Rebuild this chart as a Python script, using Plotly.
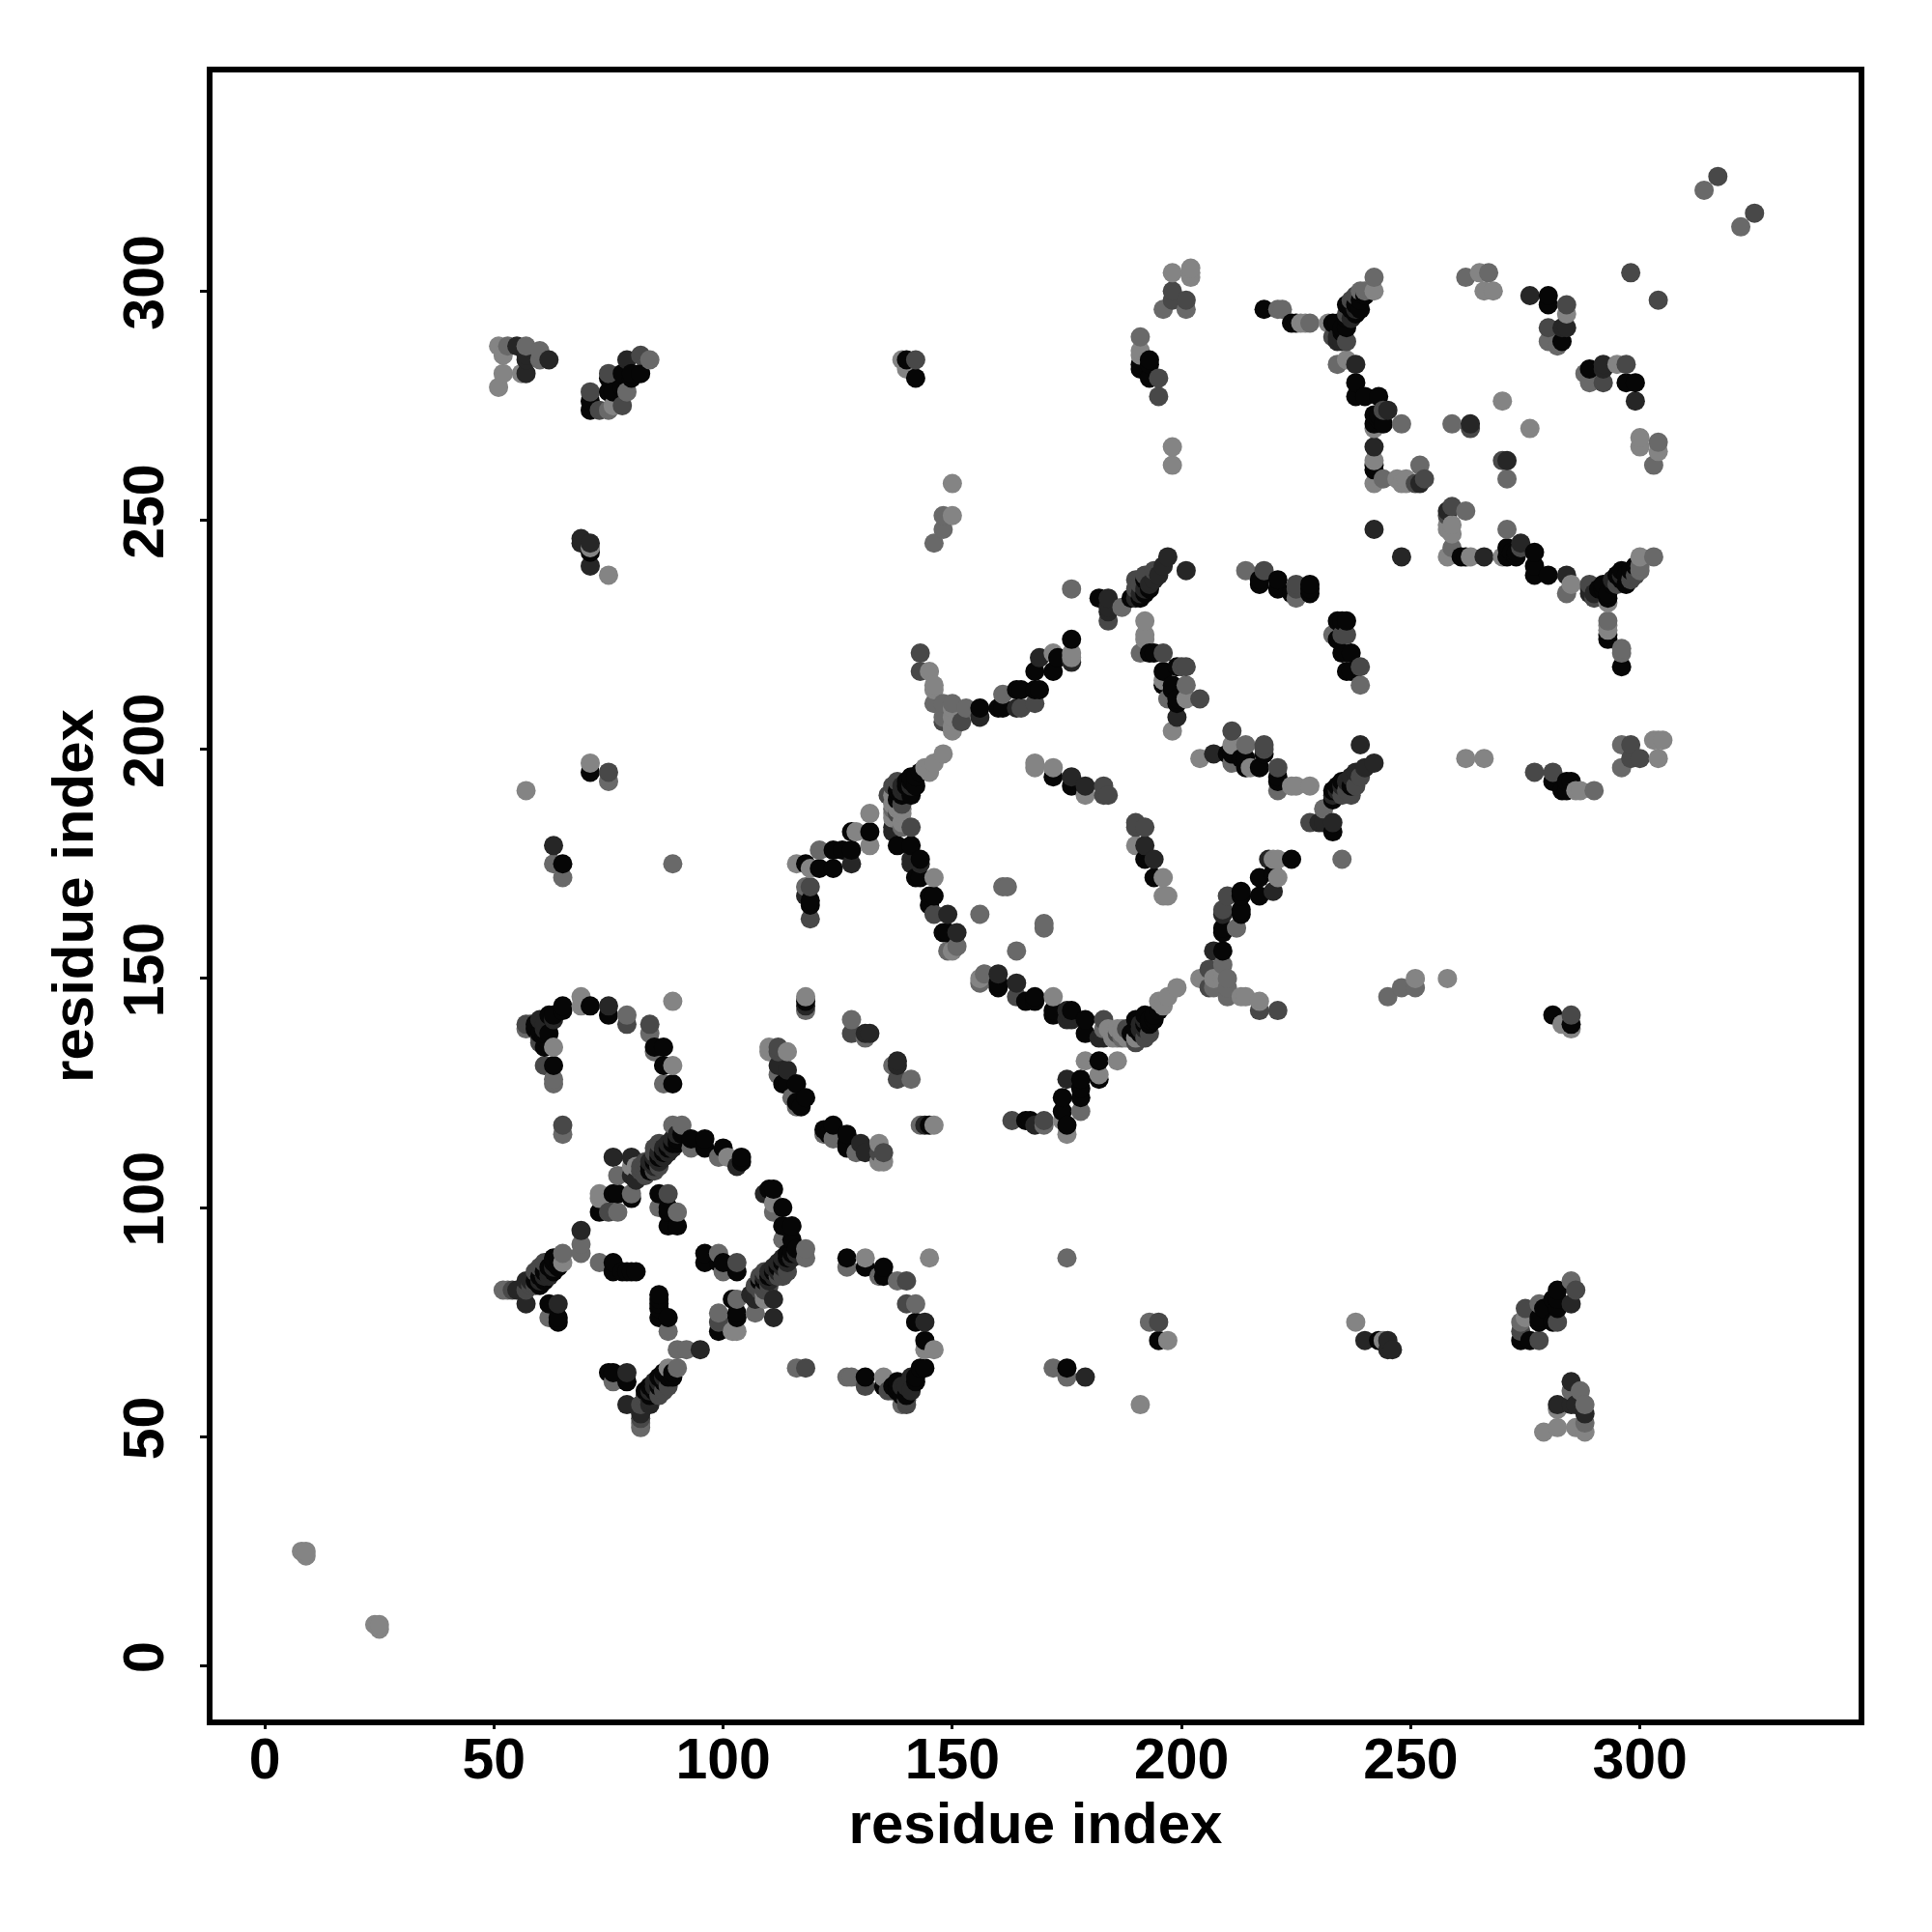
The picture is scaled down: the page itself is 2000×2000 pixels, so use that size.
import plotly.graph_objects as go

# Contact pairs (residue, residue) grouped by contact shade; the map is symmetric.
shades = ["#060606", "#262626", "#484848", "#696969", "#848484"]
contacts_black = [(59,139),(61,138),(62,138),(63,131),(75,142),(87,131),(89,127),(77,103),(80,102),(73,99),(84,109),(85,110),(86,111),(87,112),(88,113),(89,114),(90,114),(93,115),(96,113),(100,113),(104,111),(104,110),(86,103),(88,99),(88,96),(90,96),(111,104),(113,100),(115,96),(108,84),(109,84),(110,85),(111,86),(112,87),(113,88),(114,89),(115,90),(116,91),(59,84),(60,85),(61,86),(62,87),(63,88),(64,89),(62,79),(64,76),(64,75),(76,88),(76,86),(79,86),(81,86),(96,90),(96,88),(100,88),(103,86),(86,80),(86,78),(86,76),(88,76),(99,73),(103,76),(75,64),(76,64),(79,62),(89,63),(87,64),(86,63),(84,61),(84,59),(83,60),(131,63),(135,61),(137,61),(140,59),(142,62),(144,65),(143,65),(142,63),(138,60),(127,89),(131,87),(135,87),(135,85),(142,75),(144,71),(145,118),(124,118),(127,116),(127,113),(114,127),(116,127),(116,123),(117,122),(160,148),(168,145),(166,145),(172,142),(176,143),(179,141),(179,138),(190,139),(192,140),(193,141),(194,142),(195,143),(191,138),(182,132),(182,128),(178,128),(174,124),(178,124),(174,121),(167,119),(175,65),(195,71),(176,224),(173,220),(172,217),(168,217),(169,213),(165,213),(164,213),(161,209),(156,209),(143,195),(141,194),(140,193),(142,192),(139,190),(141,190),(138,189),(128,182),(128,178),(124,178),(126,178),(141,179),(143,176),(143,172),(146,168),(149,160),(118,175),(121,174),(119,167),(119,166),(172,194),(176,192),(192,176),(194,172),(194,221),(196,217),(196,214),(198,214),(199,210),(224,176),(217,172),(217,168),(213,168),(213,164),(209,160),(209,156),(211,199),(218,199),(213,198),(217,196),(221,193),(217,237),(221,237),(221,235),(228,235),(234,228),(236,228),(234,224),(237,221),(236,217),(235,193),(237,192),(233,191),(233,189),(234,192),(233,182),(277,240),(277,238),(280,238),(292,235),(293,233),(295,238),(296,237),(297,238),(298,239),(281,193),(284,193),(284,191),(283,191),(293,224),(296,218),(240,299),(239,296),(236,297),(237,296),(236,294),(234,293),(236,292),(235,291),(238,297),(238,280),(238,277),(240,277),(243,277),(242,273),(243,273),(244,271),(242,271),(242,261),(280,299),(280,297),(283,289),(289,283),(297,280),(299,280),(262,242),(271,244),(271,242),(272,243),(281,142),(285,140),(243,71),(282,82),(282,80),(282,78),(279,78),(278,75),(281,75),(274,71),(276,71),(80,281),(75,278),(76,278),(71,274),(140,285),(142,281),(71,243),(191,284),(193,285),(193,281),(218,296),(225,293)]
contacts_dark = [(57,84),(57,79),(64,79),(79,64),(76,111),(80,111),(81,106),(85,135),(87,135),(96,115),(103,109),(69,95),(115,93),(107,80),(111,80),(111,76),(95,69),(79,57),(84,57),(82,55),(131,138),(132,138),(144,75),(130,114),(131,112),(138,132),(118,144),(160,151),(164,149),(172,143),(176,141),(183,137),(175,118),(179,63),(175,128),(168,118),(169,220),(176,219),(138,179),(143,175),(141,175),(149,164),(151,160),(128,175),(132,182),(137,182),(184,233),(184,231),(192,179),(194,176),(220,169),(199,207),(207,199),(207,156),(219,176),(230,184),(233,184),(239,201),(242,197),(240,196),(284,238),(289,234),(299,276),(245,274),(238,284),(234,289),(263,271),(271,263),(292,283),(284,292),(276,299),(242,248),(266,242),(240,71),(245,71),(246,69),(245,69),(285,79),(285,62),(282,57),(285,57),(288,55),(57,286),(79,285),(62,285),(69,245),(71,245),(71,240),(258,252),(209,164),
    (85,109),(86,110),(87,111),(88,112),(89,113),(109,85),(110,84),(111,85),(112,86),(113,87),(114,88),(115,89),(116,90),(58,84),(60,84),(61,85),(62,86),(63,87),(85,60),(85,62),(86,61),(87,62),(88,63),(138,62),(139,61),(140,61),(141,60),(141,63),(139,190),(140,191),(141,192),(142,194),(191,139),(192,139),(193,140),(194,141),(233,190),(234,191),(235,192),(236,193),(237,194),(238,195),(289,235),(290,234),(291,235),(294,237),(296,238)]
contacts_mid = [(57,140),(61,131),(79,140),(84,140),(65,118),(88,103),(85,111),(103,88),(57,82),(55,82),(131,61),(140,57),(140,84),(118,65),(135,112),(112,134),(128,138),(138,128),(183,141),(168,210),(165,209),(141,183),(143,221),(119,170),(119,163),(146,164),(183,192),(183,190),(190,184),(192,183),(196,221),(200,218),(204,211),(211,204),(218,201),(221,196),(210,168),(206,152),(206,148),(217,143),(218,239),(225,235),(236,225),(239,218),(228,184),(277,195),(281,195),(298,201),(298,198),(300,198),(242,266),(252,258),(253,259),(248,242),(263,270),(236,289),(284,297),(292,280),(297,284),(304,298),(258,251),(274,244),(289,236),(286,82),(275,78),(274,73),(278,71),(75,282),(71,278),(73,274),(78,275),(82,286),(142,285),(195,281),(195,277),(198,300),(201,298),(195,75),(317,325),(54,82),(75,99),
    (84,110),(85,108),(86,109),(107,83),(108,82),(109,82),(110,83),(112,85),(113,85),(114,86),(58,83),(59,83),(60,83),(62,85),(83,58),(86,59),(87,60),(88,61),(136,60),(137,60),(139,59),(140,58),(138,186),(139,188),(190,136),(192,137),(193,138),(235,190),(236,191),(237,190),(238,192),(239,194),(237,298),(238,299),(236,295),(233,290)]
contacts_light = [(57,139),(63,128),(63,127),(79,142),(85,134),(65,116),(77,107),(80,103),(77,99),(93,113),(99,111),(86,100),(90,99),(111,99),(113,96),(118,91),(118,89),(69,92),(69,90),(65,90),(53,82),(62,76),(99,90),(99,77),(103,80),(107,77),(88,73),(90,69),(92,69),(116,65),(76,62),(90,65),(82,57),(82,54),(82,52),(127,87),(128,63),(127,63),(139,57),(138,84),(140,79),(142,79),(143,118),(122,116),(124,115),(129,112),(112,131),(128,141),(137,131),(141,128),(118,143),(157,151),(164,146),(183,139),(178,121),(163,119),(170,118),(175,89),(193,75),(172,65),(175,63),(143,217),(146,210),(148,210),(148,207),(161,212),(137,187),(121,178),(156,164),(164,156),(170,162),(170,161),(151,157),(149,156),(209,153),(212,161),(210,150),(210,146),(221,143),(214,239),(225,233),(231,187),(235,176),(214,201),(211,197),(221,191),(293,228),(296,222),(239,214),(285,84),(282,75),(278,79),(274,75),(285,142),(288,57),(288,53),(242,303),(240,300),(262,303),(248,271),(259,271),(242,262),(244,259),(252,262),(271,259),(271,248),(259,253),(262,252),(280,292),(282,288),(289,280),(304,267),(303,262),(259,244),(303,242),(300,239),(298,304),(284,234),(60,287),(60,285),(84,285),(75,274),(79,278),(148,251),(148,248),(146,245),(191,290),(198,298),(196,296),(201,296),(221,296),(222,296),(228,293),(314,322),(201,214)]
contacts_pale = [(63,135),(89,131),(87,127),(81,109),(73,103),(73,102),(91,118),(101,111),(113,93),(73,88),(52,82),(109,80),(103,73),(88,65),(135,63),(145,89),(146,69),(144,69),(146,118),(134,114),(135,110),(134,110),(110,134),(114,134),(156,150),(172,146),(187,138),(186,137),(188,137),(190,137),(197,146),(199,148),(195,145),(196,144),(179,132),(186,132),(182,129),(197,71),(191,57),(176,235),(176,220),(172,221),(145,217),(146,213),(150,209),(150,207),(150,204),(153,209),(148,199),(146,197),(145,195),(132,186),(139,187),(139,186),(139,184),(137,185),(132,179),(116,175),(119,174),(118,146),(168,196),(168,197),(172,196),(179,190),(190,179),(196,172),(196,168),(197,168),(162,170),(161,170),(192,228),(192,225),(201,211),(198,204),(204,198),(215,196),(224,192),(228,192),(225,192),(221,176),(221,172),(205,150),(214,146),(217,145),(262,198),(266,198),(286,191),(287,191),(296,196),(296,201),(304,198),(304,202),(305,202),(293,225),(285,236),(290,234),(300,240),(284,295),(248,258),(249,258),(242,300),(242,258),(265,304),(267,304),(266,300),(268,300),(270,276),(276,270),(280,289),(295,284),(300,268),(300,266),(304,265),(259,249),(259,247),(258,242),(263,242),(270,242),(300,242),(293,232),(238,75),(283,140),(244,71),(287,60),(286,52),(282,52),(279,51),(288,51),(51,288),(53,288),(52,286),(52,282),(56,282),(51,279),(76,275),(139,285),(150,258),(150,251),(75,238),(198,304),(202,304),(202,303),(226,293),(227,293),(198,266),(198,262),(8,25),(9,25),(9,24)]
tick_values = [0, 50, 100, 150, 200, 250, 300]
axis_label = "residue index"

seen = {}
for shade, pairs in zip(shades, [contacts_black, contacts_dark, contacts_mid, contacts_light, contacts_pale]):
    for a, b in pairs:
        key = (min(a, b), max(a, b))
        seen.setdefault(key, shade)
pts = []
for (a, b), shade in seen.items():
    pts.append((a, b, shade))
    pts.append((b, a, shade))
pts.sort(key=lambda p: (p[0], p[1]))

fig = go.Figure(go.Scatter(
    x=[p[0] for p in pts], y=[p[1] for p in pts], mode="markers",
    marker=dict(size=20, color=[p[2] for p in pts], line=dict(width=0)),
    hoverinfo="skip", showlegend=False,
))
tick_font = dict(family="Liberation Sans", size=59, color="black", weight="bold")
title_font = dict(family="Liberation Sans", size=60, color="black", weight="bold")
axis = dict(
    tickmode="array", tickvals=tick_values, ticktext=[str(v) for v in tick_values],
    showgrid=False, zeroline=False, showline=True, mirror=True, linewidth=6, linecolor="black",
    ticks="outside", tickwidth=3, tickcolor="black", tickfont=tick_font,
    title=dict(text=axis_label, font=title_font),
)
fig.update_layout(
    width=2000, height=2000, autosize=False, paper_bgcolor="white", plot_bgcolor="white",
    margin=dict(l=212, r=84, t=66.5, b=228, autoexpand=False),
    xaxis={**axis, "range": [-11.4, 347.7], "tickangle": 0, "ticklen": 4, "ticklabelstandoff": -20},
    yaxis={**axis, "range": [-11.7, 347.7], "tickangle": -90, "ticklen": 7, "ticklabelstandoff": 14},
)
fig.update_xaxes(title_standoff=10)
fig.update_yaxes(title_standoff=2)
fig.write_html("out.html")
